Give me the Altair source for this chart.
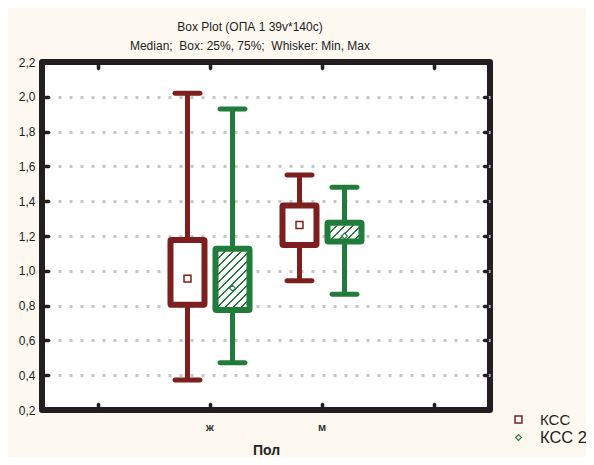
import altair as alt
import pandas as pd

# ---- data ----
groups = ["ж", "ж", "м", "м"]
series = ["КСС", "КСС 2", "КСС", "КСС 2"]
mins = [0.372, 0.472, 0.943, 0.865]
q1s = [0.805, 0.775, 1.148, 1.168]
medians = [0.955, 0.900, 1.263, 1.200]
q3s = [1.177, 1.127, 1.375, 1.276]
maxs = [2.021, 1.930, 1.551, 1.480]

x_domain = ["_a", "ж", "м", "_b"]
y_ticks = [0.2, 0.4, 0.6, 0.8, 1.0, 1.2, 1.4, 1.6, 1.8, 2.0, 2.2]
grid_ticks = [0.4, 0.6, 0.8, 1.0, 1.2, 1.4, 1.6, 1.8, 2.0]
series_names = ["КСС", "КСС 2"]
colors = ["#7e1f1f", "#217c3b"]
shapes = ["square", "diamond"]

df = pd.DataFrame(dict(group=groups, series=series, lo=mins, q1=q1s,
                       med=medians, q3=q3s, hi=maxs))

# ---- layout / style ----
W, H = 448, 348
FRAME = "#231f20"
FONT = "Liberation Sans"
BOX_W = 34
px_per_unit = H / (y_ticks[-1] - y_ticks[0])


def hatch(wp, hp, color, period=8.0, lw=2.2):
    """Diagonal stripe fill as a sharp-stop linear gradient."""
    s = wp * wp + hp * hp
    a = wp * (wp + hp) / s
    b = hp * (wp + hp) / s
    L = wp + hp
    stops = [{"offset": 0, "color": "white"}]
    m = 0
    while True:
        c = m * period + period / 2
        st, en = (c - lw / 2) / L, (c + lw / 2) / L
        if st >= 1:
            break
        st, en = max(st, 0), min(en, 1)
        stops += [{"offset": round(st, 4), "color": "white"},
                  {"offset": round(st, 4), "color": color},
                  {"offset": round(en, 4), "color": color},
                  {"offset": round(en, 4), "color": "white"}]
        m += 1
    stops.append({"offset": 1, "color": "white"})
    return {"gradient": "linear", "x1": 0, "y1": 0, "x2": round(a, 4),
            "y2": round(b, 4), "stops": stops}


x_scale = alt.Scale(domain=x_domain, paddingInner=0, paddingOuter=0)
xo = alt.XOffset("series:N", scale=alt.Scale(domain=series_names,
                                             paddingInner=0, paddingOuter=0.244))
y_scale = alt.Scale(domain=[y_ticks[0], y_ticks[-1]], nice=False, zero=False)

# series colour without a scale (so only one legend exists)
series_col = alt.condition(alt.datum.series == series_names[0],
                           alt.value(colors[0]), alt.value(colors[1]))

tick_style = dict(domain=False, tickSize=3, tickWidth=3.5, tickColor=FRAME,
                  tickCap="round", offset=-6)

x_bottom = alt.Axis(orient="bottom", title="Пол", titleFontSize=14,
                    titleFontWeight="bold", titleColor="#222", titlePadding=11,
                    labelExpr="datum.value == 'ж' || datum.value == 'м' ? datum.value : ''",
                    labelFontSize=11, labelFontWeight="bold", labelColor="#333",
                    labelPadding=14, labelAngle=0, grid=False, **tick_style)
y_left = alt.Axis(orient="left", title=None, values=y_ticks,
                  labelExpr="replace(format(datum.value, '.1f'), '.', ',')",
                  labelFontSize=12, labelColor="#222", labelPadding=10,
                  grid=False, **tick_style)
x_top = alt.Axis(orient="top", title=None, labels=False, grid=False, **tick_style)
y_right = alt.Axis(orient="right", title=None, labels=False, values=grid_ticks,
                   grid=True, gridDash=[3, 8], gridColor="#c6c6c6", gridWidth=3,
                   **tick_style)

base = alt.Chart(df)

whiskers = base.mark_rule(strokeWidth=5).encode(
    x=alt.X("group:N", scale=x_scale, axis=x_top),
    xOffset=xo,
    y=alt.Y("lo:Q", scale=y_scale, axis=y_right),
    y2="hi:Q",
    stroke=series_col,
)

red_boxes = base.transform_filter(alt.datum.series == series_names[0]).mark_bar(
    width=BOX_W, fill="white", stroke=colors[0], strokeWidth=6, strokeJoin="round",
    cornerRadius=1
).encode(
    x=alt.X("group:N", scale=x_scale, axis=x_bottom),
    xOffset=xo,
    y=alt.Y("q1:Q", scale=y_scale, axis=y_left),
    y2="q3:Q",
)

green_layers = []
for g in ["ж", "м"]:
    row = df[(df.group == g) & (df.series == series_names[1])].iloc[0]
    hp = (row.q3 - row.q1) * px_per_unit
    green_layers.append(
        base.transform_filter((alt.datum.series == series_names[1]) & (alt.datum.group == g))
        .mark_bar(width=BOX_W, fill=hatch(BOX_W, hp, colors[1]), stroke=colors[1],
                  strokeWidth=6, strokeJoin="round", cornerRadius=1)
        .encode(
            x=alt.X("group:N", scale=x_scale, axis=None),
            xOffset=xo,
            y=alt.Y("q1:Q", scale=y_scale, axis=None),
            y2="q3:Q",
        )
    )

caps = []
for fld in ["lo", "hi"]:
    caps.append(
        base.mark_tick(thickness=5, size=30, cornerRadius=2.5, opacity=1).encode(
            x=alt.X("group:N", scale=x_scale, axis=None), xOffset=xo,
            y=alt.Y(f"{fld}:Q", scale=y_scale, axis=None),
            color=series_col,
        )
    )

legend_cfg = dict(title=None,
                  labelFontSize={"expr": "datum.label == 'КСС 2' ? 16.5 : 15"},
                  labelColor="#222", labelOffset=14, symbolSize=48,
                  symbolStrokeWidth=1.4, rowPadding=1)

medians_pts = base.mark_point(filled=False, fill="white", opacity=1).encode(
    x=alt.X("group:N", scale=x_scale, axis=None), xOffset=xo,
    y=alt.Y("med:Q", scale=y_scale, axis=None),
    color=alt.Color("series:N", scale=alt.Scale(domain=series_names, range=colors),
                    legend=alt.Legend(**legend_cfg)),
    shape=alt.Shape("series:N", scale=alt.Scale(domain=series_names, range=shapes),
                    legend=alt.Legend(**legend_cfg)),
    size=alt.Size("series:N", scale=alt.Scale(domain=series_names, range=[48, 34]),
                  legend=None),
    strokeWidth=alt.StrokeWidth("series:N", scale=alt.Scale(domain=series_names,
                                                            range=[1.5, 1.1]),
                                legend=None),
)

chart = alt.layer(whiskers, red_boxes, *green_layers, *caps, medians_pts).resolve_axis(
    x="independent", y="independent"
).properties(
    width=W, height=H,
    autosize=alt.AutoSizeParams(type="none"),
    padding={"left": 34, "top": 54, "right": 96, "bottom": 47},
    background="#fdf9f1",
    title=alt.TitleParams(
        text="Box Plot (ОПА 1 39v*140c)",
        subtitle="Median;\u00a0 Box: 25%, 75%;\u00a0 Whisker: Min, Max",
        fontSize=12, subtitleFontSize=12, font=FONT, subtitleFont=FONT,
        fontWeight="normal", color="#222", subtitleColor="#222",
        anchor="middle", dx=-16, offset=3, subtitlePadding=7,
    ),
).configure(font=FONT).configure_view(
    stroke=FRAME, strokeWidth=6, fill="white", strokeJoin="round"
).configure_legend(orient="none", legendX=469, legendY=350, padding=0)

chart.save("out.html", embed_options={"renderer": "svg", "actions": False})
